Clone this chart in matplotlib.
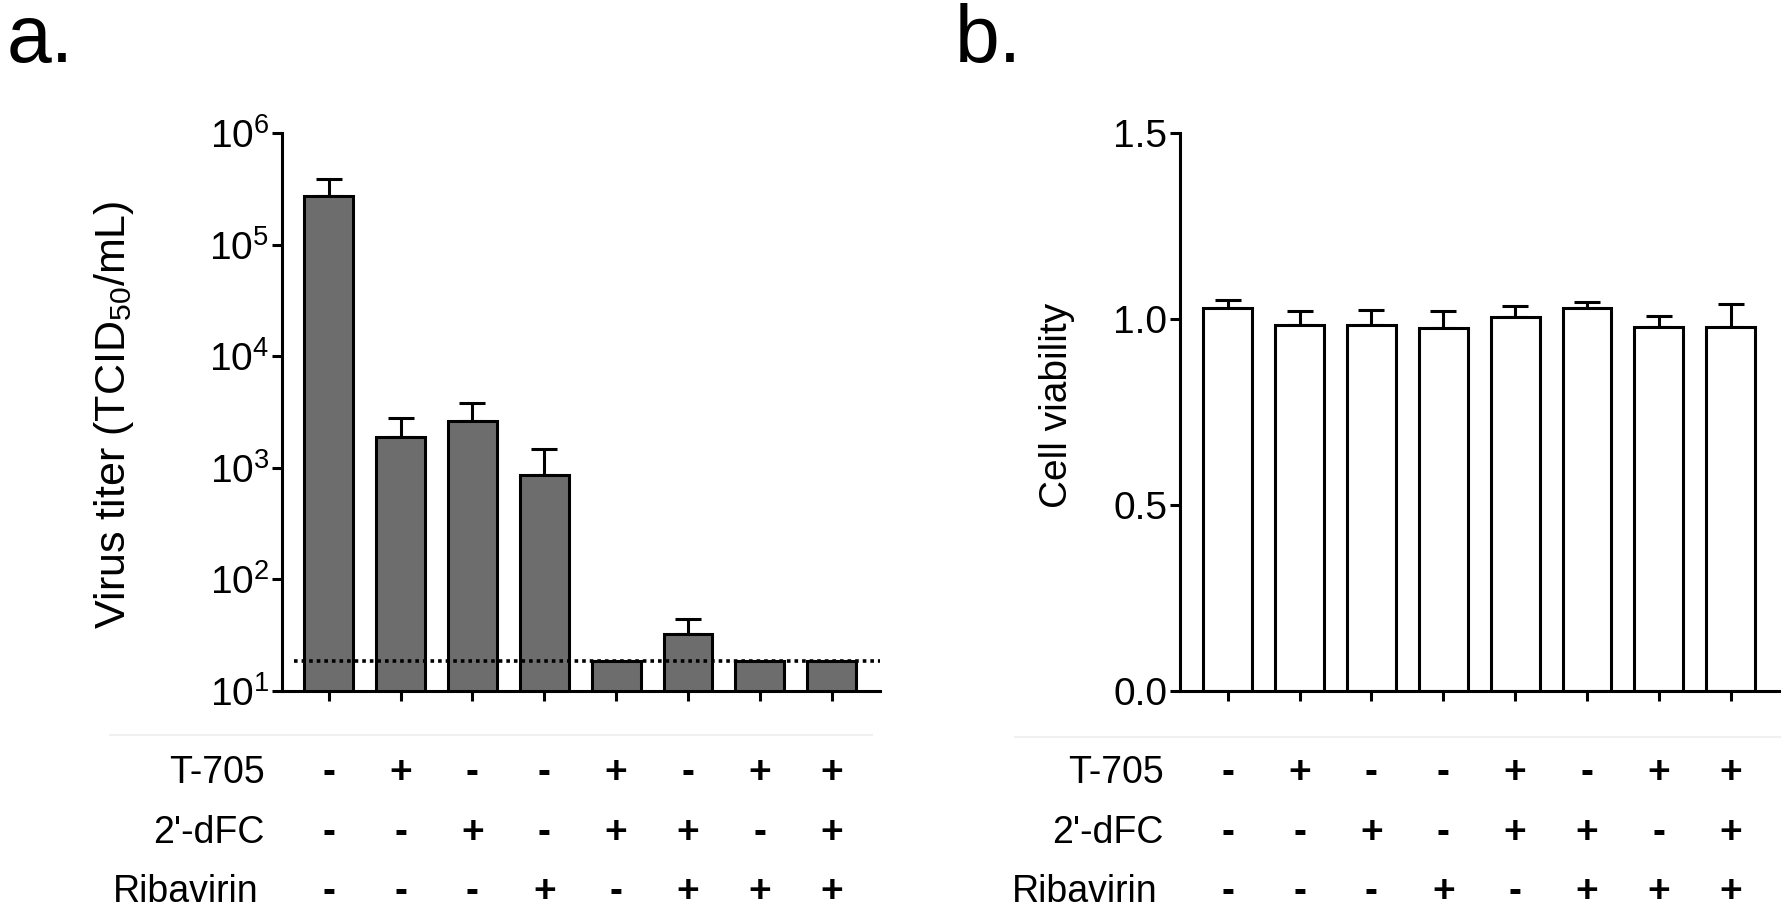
import numpy as np
import matplotlib.pyplot as plt
import matplotlib.transforms as mtransforms
from matplotlib.lines import Line2D

plt.rcParams['font.family'] = ['Liberation Sans', 'DejaVu Sans']
plt.rcParams['mathtext.fontset'] = 'custom'
plt.rcParams['mathtext.rm'] = 'Liberation Sans'
plt.rcParams['mathtext.it'] = 'Liberation Sans:italic'
plt.rcParams['mathtext.bf'] = 'Liberation Sans:bold'
plt.rcParams['mathtext.default'] = 'regular'

# treatment table
groups = np.arange(8)
row_names = ['T-705', "2'-dFC", 'Ribavirin']
t705 = ['-', '+', '-', '-', '+', '-', '+', '+']
dfc = ['-', '-', '+', '-', '+', '+', '-', '+']
ribavirin = ['-', '-', '-', '+', '-', '+', '+', '+']

# panel a: virus titer (TCID50/mL)
titer = np.array([2.73e5, 1880, 2620, 867, 18.6, 32.6, 18.6, 18.6])
titer_err = np.array([1.2e5, 920, 1200, 620, 0, 12, 0, 0])
detect_limit = 18.6

# panel b: cell viability
viability = np.array([1.031, 0.984, 0.984, 0.976, 1.006, 1.031, 0.980, 0.980])
viability_err = np.array([0.020, 0.039, 0.042, 0.047, 0.029, 0.014, 0.029, 0.060])

W, H = 1786, 916
fig = plt.figure(figsize=(W / 100, H / 100), dpi=100)
axa = fig.add_axes([281.7 / W, 1 - 691 / H, 598.3 / W, 557.7 / H])
axb = fig.add_axes([1180 / W, 1 - 691 / H, 599.3 / W, 557.7 / H])

LW = 2.2


def style(ax):
    for s in ['top', 'right']:
        ax.spines[s].set_visible(False)
    for s in ['left', 'bottom']:
        ax.spines[s].set_linewidth(LW)
    ax.set_xticks(groups)
    ax.set_xticklabels([])
    ax.tick_params(axis='x', length=7, width=LW, direction='out')
    ax.tick_params(axis='y', length=7, width=LW, direction='out', labelsize=28, pad=2)
    ax.minorticks_off()


def draw_bars(ax, vals, errs, color):
    ax.bar(groups, vals, width=0.68, color=color, edgecolor='black', linewidth=LW, zorder=2)
    m = errs > 0
    ax.errorbar(groups[m], vals[m], yerr=[np.zeros(m.sum()), errs[m]], fmt='none',
                ecolor='black', elinewidth=LW, capsize=9.5, capthick=LW, zorder=1)


def draw_table(ax):
    tr = mtransforms.blended_transform_factory(ax.transData, fig.transFigure)
    rows_y = [1 - 773 / H, 1 - 833 / H, 1 - 892 / H]
    label_x = [-0.89, -0.89, -0.98]
    for name, signs, y, lx in zip(row_names, [t705, dfc, ribavirin], rows_y, label_x):
        ax.text(lx, y, name, transform=tr, ha='right', va='center', fontsize=27)
        for g, s in zip(groups, signs):
            ax.text(g, y, s, transform=tr, ha='center', va='center', fontsize=28,
                    fontweight='bold')


# panel a
axa.set_yscale('log')
draw_bars(axa, titer, titer_err, '#6d6d6d')
axa.axhline(detect_limit, xmin=0.02, xmax=1, color='black', lw=2.6,
            linestyle=(0, (1, 1.1)), zorder=3)
axa.set_ylim(10, 1e6)
axa.set_xlim(-0.654, 7.672)
axa.set_yticks([1e1, 1e2, 1e3, 1e4, 1e5, 1e6])
style(axa)
draw_table(axa)

# panel b
draw_bars(axb, viability, viability_err, 'white')
axb.set_ylim(0, 1.5)
axb.set_xlim(-0.664, 7.676)
axb.set_yticks([0.0, 0.5, 1.0, 1.5])
axb.set_yticklabels(['0.0', '0.5', '1.0', '1.5'])
style(axb)
draw_table(axb)

# axis titles
fig.text(114 / W, 1 - 415 / H, 'Virus titer (TCID$_{50}$/mL)', rotation=90,
         ha='center', va='center', fontsize=31)
fig.text(1057 / W, 1 - 405 / H, 'Cell viability', rotation=90,
         ha='center', va='center', fontsize=28)

# panel letters
fig.text(7 / W, 1 - 62 / H, 'a.', fontsize=58, va='baseline')
fig.text(955 / W, 1 - 62 / H, 'b.', fontsize=58, va='baseline')

# faint separators above the tables
fig.add_artist(Line2D([110 / W, 872 / W], [1 - 735 / H] * 2, color='#f0f0f0', lw=1.5))
fig.add_artist(Line2D([1015 / W, 1780 / W], [1 - 737 / H] * 2, color='#f0f0f0', lw=1.5))

fig.savefig('out.png', dpi=100)
